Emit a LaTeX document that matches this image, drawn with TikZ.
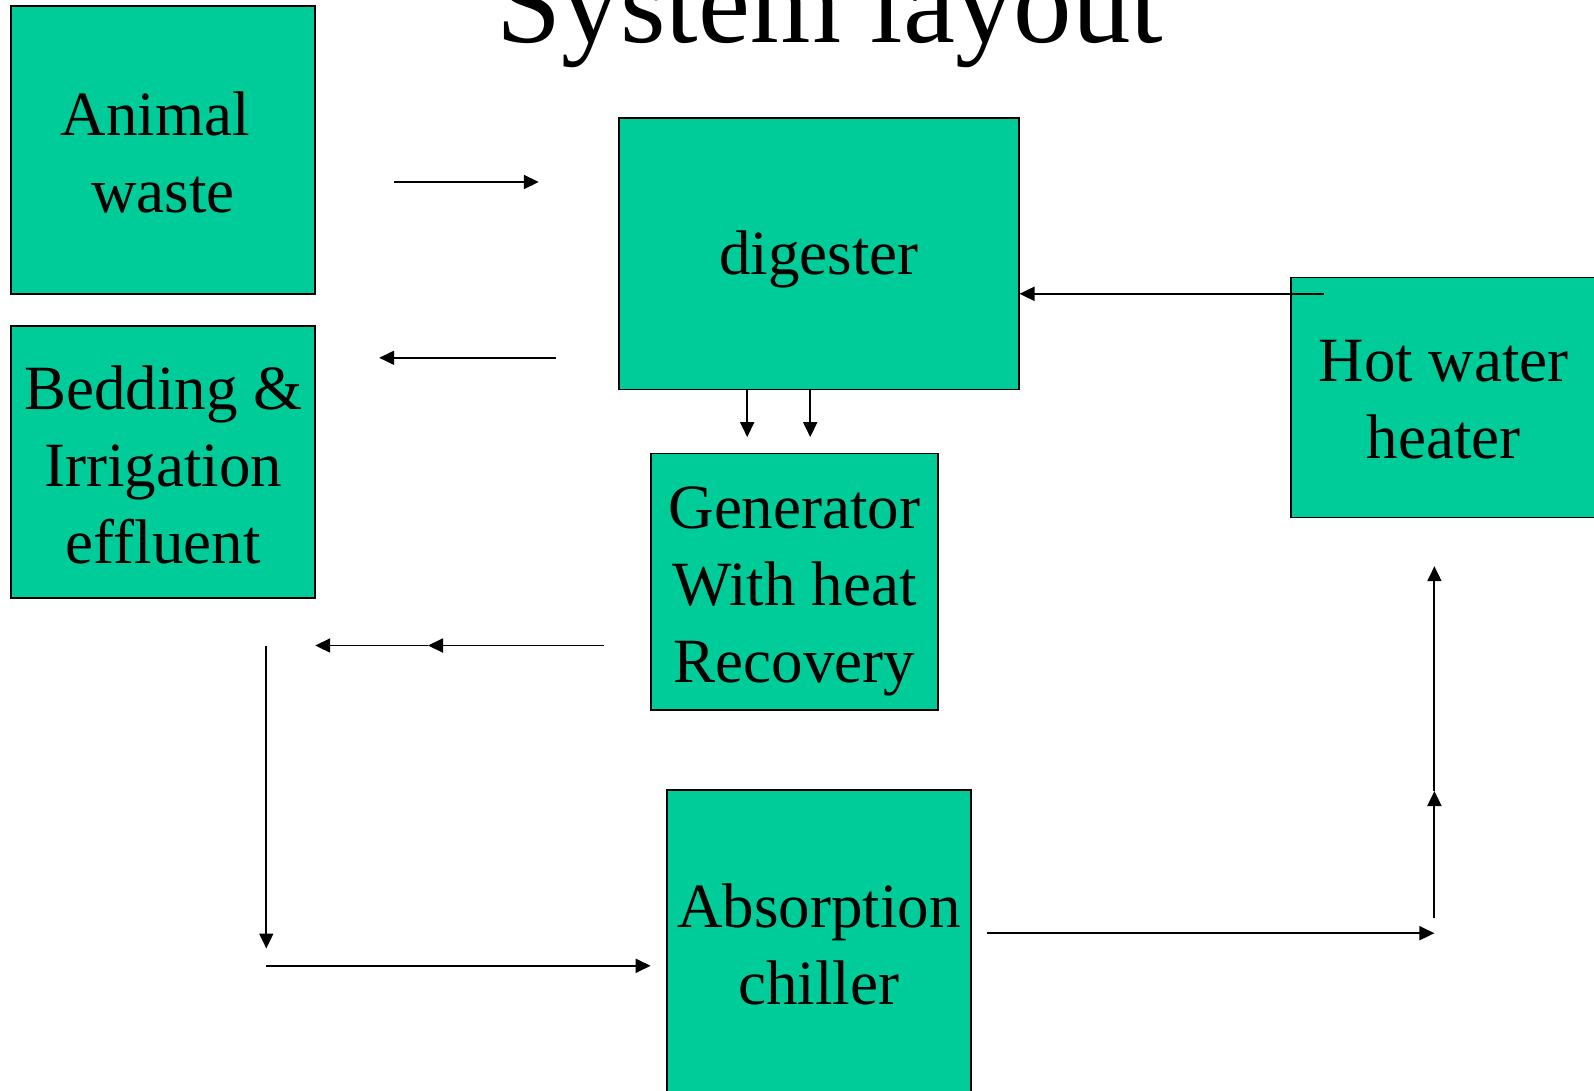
\documentclass[tikz,border=0pt]{standalone}
\usepackage{fontspec}
\setmainfont{Liberation Serif}
\usetikzlibrary{arrows.meta}
\definecolor{boxgreen}{RGB}{0,204,153}
\newcommand{\lowr}[2]{\raisebox{-#1}[\height][\depth]{#2}}
\begin{document}
\begin{tikzpicture}[x=1pt,y=-1pt,
  box/.style={draw=black,line width=1.8pt,fill=boxgreen,inner sep=0pt,align=center,
    font=\fontsize{63}{77}\selectfont},
  conn/.style={line width=1.9pt,-{Triangle[length=15pt,width=14pt]}},
  title/.style={anchor=base,inner sep=0pt,font=\fontsize{117}{130}\selectfont}]
\useasboundingbox (0,0) rectangle (1594,1090);
\clip (0,0) rectangle (1594,1090);
\fill[white] (0,0) rectangle (1594,1090);

\node[title] (ttl) at (830,42.7) {System layout};

\node[box,minimum width=304pt,minimum height=287.7pt] (ani) at (163.2,150)
  {\lowr{2pt}{Animal\kern15.75pt}\\\lowr{2pt}{waste}};
\node[box,minimum width=304pt,minimum height=271.5pt] (bed) at (163.2,462)
  {\lowr{3pt}{Bedding \&}\\\lowr{3pt}{Irrigation}\\\lowr{3pt}{effluent}};
\node[box,minimum width=399.5pt,minimum height=271.5pt] (dig) at (818.85,253.65)
  {\lowr{6pt}{digester}};
\node[box,minimum width=287.7pt,minimum height=256.2pt] (gen) at (794.45,581.5)
  {\lowr{10pt}{Generator}\\\lowr{10pt}{With heat}\\\lowr{10pt}{Recovery}};
\node[box,minimum width=305pt,minimum height=240pt] (hot) at (1443.6,397.5)
  {\lowr{2pt}{Hot water}\\\lowr{2pt}{heater}};
\node[box,minimum width=304pt,minimum height=308pt] (abs) at (818.9,944)
  {Absorption\\chiller};

\coordinate (a1) at (394.4,182);
\coordinate (a2) at (538.8,182);
\draw[conn] (a1) -- (a2);

\coordinate (b1) at (556.1,357.8);
\coordinate (b2) at (379.2,357.8);
\draw[conn] (b1) -- (b2);

\coordinate (d1) at (747.2,437.1);
\coordinate (d2) at (810.2,437.1);
\draw[conn] (d1 |- dig.south) -- (d1);
\draw[conn] (d2 |- dig.south) -- (d2);

\coordinate (h1) at (1323.6,293.8);
\draw[conn] (h1) -- (h1 -| dig.east);

\coordinate (g1) at (603.9,645.5);
\coordinate (g2) at (428,645.5);
\coordinate (g3) at (315.2,645.5);
\draw[conn] (g1) -- (g2);
\draw[conn] (g2) -- (g3);

\coordinate (v1) at (266.3,645.5);
\coordinate (v2) at (266.3,948.5);
\draw[conn] (v1) -- (v2);

\coordinate (w1) at (266.3,965.8);
\coordinate (w2) at (650.6,965.8);
\draw[conn] (w1) -- (w2);

\coordinate (c1) at (987.1,933.2);
\coordinate (c2) at (1434.4,933.2);
\draw[conn] (c1) -- (c2);

\coordinate (u1) at (1434.4,918);
\coordinate (u2) at (1434.4,791);
\coordinate (u3) at (1434.4,566.2);
\draw[conn] (u1) -- (u2);
\draw[conn] (u2) -- (u3);
\end{tikzpicture}
\end{document}
